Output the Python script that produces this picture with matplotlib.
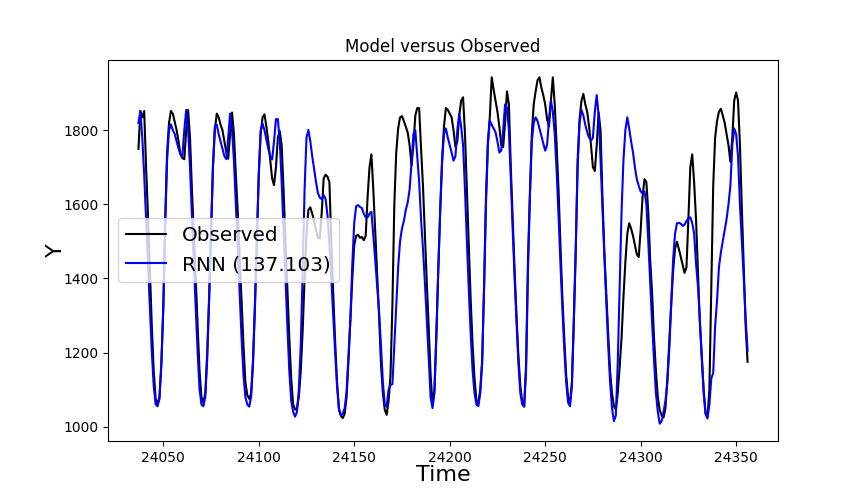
import numpy as np
import matplotlib
matplotlib.use('Agg')
import matplotlib.pyplot as plt

# Индексы времени (почасовые)
t_start = 24037
observed = [
    1750, 1852, 1835, 1852, 1700, 1570, 1420, 1270, 1150, 1075,
    1062, 1080, 1170, 1320, 1560, 1740, 1820, 1852, 1845, 1822,
    1800, 1770, 1735, 1725, 1722, 1800, 1855, 1780, 1640, 1520,
    1400, 1270, 1150, 1080, 1065, 1090, 1200, 1350, 1520, 1700,
    1800, 1845, 1835, 1815, 1800, 1770, 1740, 1723, 1790, 1848,
    1790, 1680, 1580, 1460, 1340, 1220, 1120, 1085, 1075, 1090,
    1180, 1330, 1500, 1680, 1790, 1835, 1843, 1810, 1770, 1720,
    1670, 1652, 1700, 1780, 1798, 1760, 1640, 1500, 1370, 1240,
    1130, 1060, 1046, 1050, 1080, 1150, 1260, 1400, 1520, 1585,
    1592, 1575, 1555, 1530, 1510, 1508, 1580, 1670, 1680, 1675,
    1660, 1500, 1360, 1230, 1120, 1050, 1030, 1023, 1035, 1080,
    1180, 1290, 1400, 1490, 1515, 1518, 1510, 1512, 1503, 1515,
    1620, 1700, 1735, 1640, 1525, 1410, 1300, 1170, 1090, 1045,
    1032, 1070, 1140, 1330, 1600, 1740, 1805, 1835, 1838, 1825,
    1810, 1794, 1760, 1705, 1760, 1840, 1860, 1860, 1750, 1650,
    1520, 1390, 1270, 1140, 1058, 1100, 1250, 1420, 1580, 1720,
    1810, 1860, 1855, 1845, 1835, 1800, 1755, 1770, 1840, 1880,
    1889, 1790, 1640, 1490, 1340, 1220, 1130, 1070, 1064, 1100,
    1180, 1380, 1620, 1770, 1835, 1943, 1910, 1880, 1850, 1810,
    1760, 1755, 1820, 1905, 1870, 1700, 1560, 1420, 1300, 1190,
    1110, 1065, 1054, 1170, 1450, 1630, 1790, 1870, 1905, 1935,
    1943, 1915, 1895, 1870, 1830, 1810, 1880, 1943, 1870, 1760,
    1640, 1490, 1350, 1240, 1140, 1080, 1064, 1120, 1290, 1470,
    1720, 1830, 1880, 1898, 1870, 1850, 1810, 1760, 1700, 1690,
    1760, 1848, 1800, 1620, 1470, 1360, 1250, 1150, 1090, 1055,
    1045, 1090, 1160, 1240, 1350, 1445, 1520, 1549, 1535, 1515,
    1490, 1465, 1458, 1530, 1620, 1668, 1660, 1580, 1450, 1360,
    1240, 1150, 1080, 1045, 1030, 1025, 1050, 1130, 1230, 1330,
    1420, 1480, 1499, 1480, 1458, 1435, 1415, 1430, 1560, 1700,
    1735, 1660, 1560, 1420, 1280, 1190, 1100, 1035, 1025, 1100,
    1380, 1650, 1780, 1825, 1850, 1858, 1840, 1820, 1790, 1760,
    1715, 1780, 1880, 1902, 1880, 1760, 1590, 1430, 1270, 1175,
]
rnn = [
    1820, 1852, 1780, 1680, 1560, 1440, 1320, 1200, 1110, 1060,
    1055, 1075, 1170, 1320, 1540, 1720, 1800, 1816, 1800, 1790,
    1770, 1750, 1735, 1730, 1800, 1855, 1800, 1700, 1570, 1440,
    1320, 1200, 1100, 1060, 1055, 1080, 1180, 1340, 1520, 1700,
    1810, 1815, 1790, 1770, 1750, 1730, 1722, 1780, 1845, 1800,
    1720, 1600, 1480, 1360, 1240, 1140, 1080, 1060, 1054, 1080,
    1170, 1320, 1500, 1680, 1800, 1818, 1800, 1775, 1750, 1730,
    1721, 1770, 1830, 1830, 1770, 1660, 1530, 1400, 1270, 1150,
    1070, 1040, 1027, 1040, 1100, 1220, 1420, 1640, 1780, 1801,
    1770, 1730, 1695, 1660, 1630, 1618, 1614, 1625, 1615, 1570,
    1490, 1400, 1300, 1200, 1110, 1045, 1030, 1035, 1050, 1095,
    1190, 1290, 1440, 1550, 1595, 1598, 1593, 1590, 1575, 1565,
    1565, 1575, 1580, 1515, 1450, 1380, 1310, 1220, 1120, 1060,
    1054, 1100, 1112, 1115, 1220, 1330, 1430, 1500, 1535, 1555,
    1585, 1605, 1640, 1710, 1790, 1800, 1730, 1660, 1560, 1480,
    1390, 1290, 1186, 1080, 1050, 1090, 1240, 1420, 1580, 1710,
    1790, 1805, 1780, 1760, 1740, 1718, 1730, 1800, 1845, 1810,
    1760, 1640, 1500, 1370, 1250, 1150, 1090, 1060, 1055, 1090,
    1170, 1370, 1600, 1760, 1826, 1815, 1805, 1795, 1770, 1740,
    1745, 1800, 1870, 1860, 1800, 1670, 1530, 1400, 1280, 1170,
    1090, 1060, 1054, 1150, 1420, 1620, 1770, 1820, 1835, 1825,
    1805, 1785, 1765, 1745, 1760, 1830, 1880, 1850, 1790, 1690,
    1570, 1440, 1320, 1210, 1120, 1065, 1055, 1110, 1280, 1480,
    1700, 1820, 1855, 1840, 1815, 1795, 1780, 1772, 1780, 1850,
    1895, 1840, 1720, 1590, 1460, 1340, 1220, 1120, 1050, 1015,
    1030, 1170, 1370, 1580, 1720, 1800, 1835, 1805, 1770, 1740,
    1700, 1668, 1650, 1635, 1630, 1635, 1600, 1500, 1390, 1280,
    1180, 1090, 1040, 1008, 1015, 1040, 1070, 1120, 1210, 1330,
    1450, 1520, 1549, 1550, 1548, 1542, 1545, 1555, 1562, 1565,
    1550, 1522, 1440, 1380, 1290, 1190, 1090, 1035, 1022, 1060,
    1130, 1145, 1270, 1340, 1430, 1470, 1500, 1530, 1560, 1600,
    1650, 1760, 1805, 1790, 1730, 1600, 1500, 1400, 1290, 1205,
]
rnn_score = 137.103

t = np.arange(t_start, t_start + len(observed))

fig = plt.figure(figsize=(8.64, 5.04), dpi=100)
ax = fig.add_axes([0.125, 0.125, 0.7755, 0.756])
ax.plot(t, observed, color='k', label='Observed')
ax.plot(t, rnn, color='b', label=f'RNN ({rnn_score})')
ax.set_title('Model versus Observed', fontsize=12)
ax.set_xlabel('Time', fontsize=16, labelpad=0)
ax.set_ylabel('Y', fontsize=16, labelpad=-2)
ax.legend(loc='center left', fontsize='x-large')
fig.savefig('out.png', dpi=100)
